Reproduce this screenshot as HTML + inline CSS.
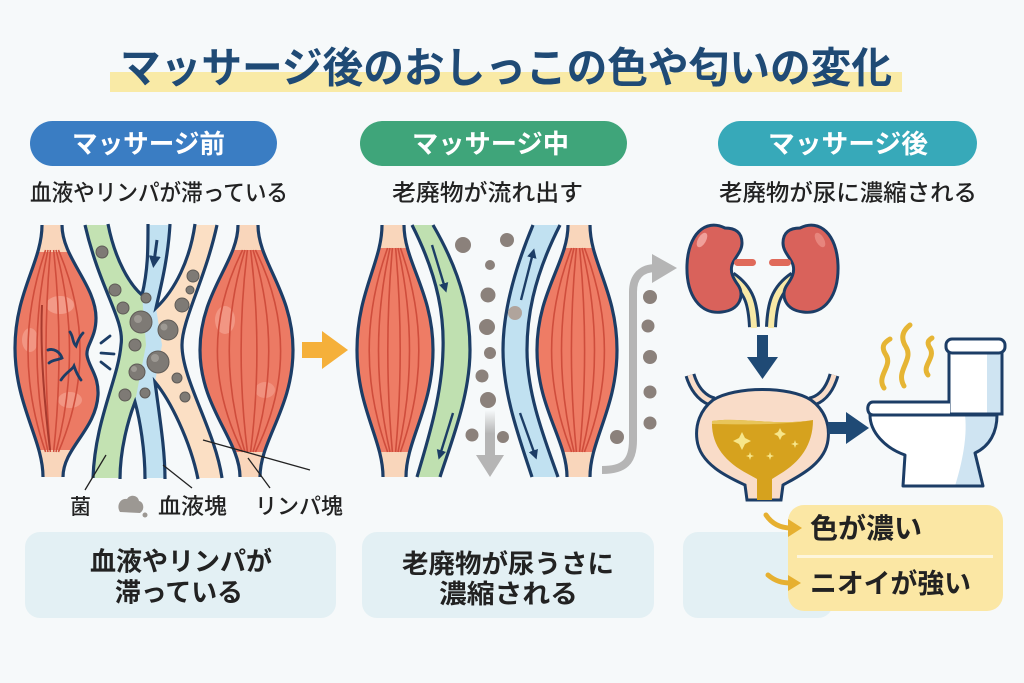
<!DOCTYPE html>
<html><head><meta charset="utf-8"><style>
html,body{margin:0;padding:0;background:#f6f9fa;}
svg{display:block;}
text{font-family:"Liberation Sans","Noto Sans CJK JP",sans-serif;}
</style></head><body>
<svg width="1024" height="683" viewBox="0 0 1024 683" xmlns="http://www.w3.org/2000/svg">
<defs>
<marker id="ah" viewBox="0 0 10 10" refX="5" refY="5" markerWidth="4" markerHeight="4" orient="auto"><path d="M0,0 L10,5 L0,10 Z" fill="#1c3d66"/></marker>
<linearGradient id="gfade" x1="0" y1="0" x2="0" y2="1"><stop offset="0" stop-color="#b5b5b5" stop-opacity="0"/><stop offset="0.5" stop-color="#b5b5b5"/></linearGradient>
<clipPath id="cLM1"><path d="M42,225 C42,262 15,292 15,348 C15,405 43,440 43,477 L63,477 C63,448 96,430 98,395 C99,375 88,366 87,355 C86,345 96,338 96,318 C96,285 62,258 62,225 Z"/></clipPath>
<clipPath id="cLM2"><path d="M238,225 C238,262 200,292 200,350 C200,408 240,440 240,477 L260,477 C260,440 293,408 293,350 C293,292 258,262 258,225 Z"/></clipPath>
<clipPath id="cMM1"><path d="M382,225 C382,262 357,292 357,350 C357,408 383,440 383,477 L406,477 C406,440 433,408 433,350 C433,292 404,262 404,225 Z"/></clipPath>
<clipPath id="cMM2"><path d="M568,225 C568,262 537,292 537,350 C537,408 567,440 567,477 L590,477 C590,440 617,408 617,350 C617,292 590,262 590,225 Z"/></clipPath>
<clipPath id="cBowl"><path d="M870,415 L997,415 C997,432 990,446 975,453 L983,486 L903,486 L905,455 C885,448 870,432 870,415 Z"/></clipPath>
<clipPath id="cTank"><rect x="949" y="352" width="53" height="62"/></clipPath>
</defs>

<!-- Title -->
<rect x="110" y="72" width="792" height="20" fill="#f9eaa6"/>
<text x="120" y="82.5" font-size="42" font-weight="bold" fill="#1f4a75" textLength="772" lengthAdjust="spacingAndGlyphs">マッサージ後のおしっこの色や匂いの変化</text>

<!-- Pills -->
<rect x="30" y="121" width="247" height="45" rx="22.5" fill="#3a7dc3"/>
<text x="72" y="153" font-size="26" font-weight="bold" fill="#fff" textLength="153" lengthAdjust="spacingAndGlyphs">マッサージ前</text>
<rect x="360" y="121" width="267" height="45" rx="22.5" fill="#3fa57a"/>
<text x="412" y="153" font-size="26" font-weight="bold" fill="#fff" textLength="157" lengthAdjust="spacingAndGlyphs">マッサージ中</text>
<rect x="718" y="121" width="259" height="45" rx="22.5" fill="#37a9b9"/>
<text x="768" y="153" font-size="26" font-weight="bold" fill="#fff" textLength="160" lengthAdjust="spacingAndGlyphs">マッサージ後</text>

<!-- Subtitles -->
<text x="30" y="200.5" font-size="23" font-weight="500" fill="#222" textLength="258" lengthAdjust="spacingAndGlyphs">血液やリンパが滞っている</text>
<text x="392" y="200.5" font-size="23" font-weight="500" fill="#222" textLength="191" lengthAdjust="spacingAndGlyphs">老廃物が流れ出す</text>
<text x="719" y="200.5" font-size="23" font-weight="500" fill="#222" textLength="258" lengthAdjust="spacingAndGlyphs">老廃物が尿に濃縮される</text>

<!-- ===== LEFT PANEL ===== -->
<!-- Left muscle LM1 -->
<g clip-path="url(#cLM1)">
<rect x="0" y="220" width="110" height="262" fill="#ec7a64"/>
<ellipse cx="60" cy="305" rx="14" ry="9" fill="#f6a897" opacity="0.7"/>
<ellipse cx="30" cy="340" rx="8" ry="12" fill="#f6a897" opacity="0.6"/>
<ellipse cx="70" cy="400" rx="12" ry="8" fill="#f6a897" opacity="0.6"/>
<rect x="0" y="220" width="110" height="32" fill="#f9d6bb"/>
<rect x="0" y="450" width="110" height="32" fill="#f9d6bb"/>
<g fill="none" stroke="#cf4d3c" stroke-width="1.6">
<path d="M45.6,250 Q10.4,351 45.6,452"/><path d="M48,250 Q26,351 48,452"/><path d="M50.4,250 Q41.6,351 50.4,452"/>
<path d="M53.6,250 Q64.4,351 53.6,452"/><path d="M56,250 Q83,351 56,452"/><path d="M58.4,250 Q101.6,351 58.4,452"/>
</g>
<path d="M42,305 C40,350 44,400 50,450" stroke="#a83a2e" stroke-width="2" fill="none"/>
</g>
<path d="M42,225 C42,262 15,292 15,348 C15,405 43,440 43,477" fill="none" stroke="#1c3d66" stroke-width="3.2"/>
<path d="M62,225 C62,258 96,285 96,318 C96,338 86,345 87,355 C88,366 99,375 98,395 C96,430 63,448 63,477" fill="none" stroke="#1c3d66" stroke-width="3.2"/>
<g fill="none" stroke="#1c3d66" stroke-width="2.8" stroke-linecap="round">
<path d="M70,332 C74,338 72,342 76,346 C78,340 80,336 83,333"/>
<path d="M48,350 C54,348 60,352 62,358 C58,360 52,360 49,363"/>
<path d="M61,380 C66,372 72,370 74,366 C76,372 78,376 81,380"/>
<path d="M101,343 L110,336"/><path d="M101,353 L114,354"/><path d="M101,362 L110,369"/>
</g>

<!-- Hourglass vessels -->
<path d="M85,225 L217,225 C205,280 182,320 182,345 C182,380 215,430 222,478 L93,478 C95,420 118,380 121,345 C125,320 100,290 85,225 Z" fill="#fbdfc4"/>
<path d="M85,225 L108,225 C115,260 130,285 142,295 L152,345 L138,400 C128,420 120,450 120,478 L93,478 C95,420 118,380 121,345 C125,320 100,290 85,225 Z" fill="#c3e2b2"/>
<path d="M148,225 L170,225 C168,260 160,290 156,308 L162,345 L155,382 C162,420 165,450 165,478 L145,478 C145,450 140,420 135,402 L146,345 L142,295 C148,270 148,250 148,225 Z" fill="#c1e1f1"/>
<!-- notches -->
<path d="M108,224 C115,260 130,285 142,295 C148,270 148,250 148,224 Z" fill="#f6f9fa"/>
<path d="M170,224 C168,260 160,290 156,308 C175,290 190,260 195,224 Z" fill="#f6f9fa"/>
<path d="M120,479 C120,450 128,420 135,402 C140,420 145,450 145,479 Z" fill="#f6f9fa"/>
<path d="M165,479 C165,450 160,420 155,382 C170,400 190,440 198,479 Z" fill="#f6f9fa"/>
<g fill="none" stroke="#1c3d66" stroke-width="3.2">
<path d="M85,225 C100,290 125,320 121,345 C118,380 95,420 93,478"/>
<path d="M217,225 C205,280 182,320 182,345 C182,380 215,430 222,478"/>
<path d="M108,224 C115,260 130,285 142,295 C148,270 148,250 148,224"/>
<path d="M170,224 C168,260 160,290 156,308 C175,290 190,260 195,224"/>
<path d="M120,479 C120,450 128,420 135,402 C140,420 145,450 145,479"/>
<path d="M165,479 C165,450 160,420 155,382 C170,400 190,440 198,479"/>
</g>
<path d="M157,240 L154,262" stroke="#1c3d66" stroke-width="3" fill="none" marker-end="url(#ah)"/>
<!-- blobs -->
<g fill="#7e7a75" stroke="#5f5b57" stroke-width="1">
<circle cx="102" cy="252" r="6"/><circle cx="115" cy="290" r="6"/><circle cx="123" cy="308" r="6"/>
<circle cx="141" cy="322" r="11"/><circle cx="146" cy="298" r="5"/><circle cx="168" cy="330" r="10"/>
<circle cx="135" cy="345" r="6"/><circle cx="158" cy="362" r="11"/><circle cx="137" cy="372" r="8"/>
<circle cx="125" cy="395" r="6"/><circle cx="145" cy="393" r="5"/><circle cx="182" cy="305" r="7"/>
<circle cx="193" cy="276" r="6"/><circle cx="190" cy="290" r="4"/><circle cx="177" cy="378" r="5"/><circle cx="185" cy="397" r="5"/>
</g>
<g fill="#9d9993"><circle cx="138" cy="319" r="4"/><circle cx="164" cy="327" r="3.5"/><circle cx="155" cy="358" r="4"/><circle cx="134" cy="369" r="3"/></g>

<!-- Right muscle LM2 -->
<g clip-path="url(#cLM2)">
<rect x="195" y="220" width="105" height="262" fill="#ec7a64"/>
<ellipse cx="225" cy="320" rx="10" ry="14" fill="#f6a897" opacity="0.6"/>
<ellipse cx="265" cy="390" rx="10" ry="8" fill="#f6a897" opacity="0.5"/>
<rect x="195" y="220" width="105" height="30" fill="#f9d6bb"/>
<rect x="195" y="452" width="105" height="30" fill="#f9d6bb"/>
<g fill="none" stroke="#cf4d3c" stroke-width="1.6">
<path d="M242.6,250 Q192.2,351 242.6,452"/><path d="M245,250 Q213.5,351 245,452"/><path d="M247.4,250 Q234.8,351 247.4,452"/>
<path d="M250.6,250 Q263.2,351 250.6,452"/><path d="M253,250 Q284.5,351 253,452"/><path d="M255.4,250 Q305.8,351 255.4,452"/>
</g>
</g>
<path d="M238,225 C238,262 200,292 200,350 C200,408 240,440 240,477" fill="none" stroke="#1c3d66" stroke-width="3.2"/>
<path d="M258,225 C258,262 293,292 293,350 C293,408 260,440 260,477" fill="none" stroke="#1c3d66" stroke-width="3.2"/>

<!-- callout lines -->
<g stroke="#222" stroke-width="1.3">
<line x1="85" y1="490" x2="106" y2="455"/>
<line x1="192" y1="488" x2="163" y2="465"/>
<line x1="310" y1="470" x2="203" y2="440"/>
<line x1="270" y1="488" x2="248" y2="458"/>
</g>
<!-- legend -->
<text x="70" y="514" font-size="21" font-weight="500" fill="#222">菌</text>
<path d="M120,512 C116,506 120,498 127,499 C130,494 138,495 139,501 C144,502 145,510 140,513 Z" fill="#9c9893"/>
<circle cx="145" cy="515" r="2.5" fill="#9c9893"/>
<text x="158" y="514" font-size="22" font-weight="500" fill="#222" textLength="69" lengthAdjust="spacingAndGlyphs">血液塊</text>
<text x="255" y="514" font-size="22" font-weight="500" fill="#222" textLength="88" lengthAdjust="spacingAndGlyphs">リンパ塊</text>

<!-- orange arrow -->
<rect x="302" y="342" width="23" height="16" fill="#f5b03a"/>
<polygon points="322,331 348,350 322,369" fill="#f5b03a"/>

<!-- ===== MIDDLE PANEL ===== -->
<g clip-path="url(#cMM1)">
<rect x="350" y="220" width="90" height="262" fill="#ee7c65"/>
<rect x="350" y="220" width="90" height="28" fill="#f9d6bb"/>
<rect x="350" y="452" width="90" height="30" fill="#f9d6bb"/>
<g fill="none" stroke="#cf4d3c" stroke-width="1.6">
<path d="M387.6,248 Q350.8,351 387.6,452"/><path d="M390,248 Q367,351 390,452"/><path d="M392.4,248 Q383.2,351 392.4,452"/>
<path d="M395.6,248 Q404.8,351 395.6,452"/><path d="M398,248 Q421,351 398,452"/><path d="M400.4,248 Q437.2,351 400.4,452"/>
</g>
</g>
<path d="M382,225 C382,262 357,292 357,350 C357,408 383,440 383,477" fill="none" stroke="#1c3d66" stroke-width="3.2"/>
<path d="M404,225 C404,262 433,292 433,350 C433,408 406,440 406,477" fill="none" stroke="#1c3d66" stroke-width="3.2"/>

<!-- green vessel -->
<path d="M412,225 C440,280 444,320 443,350 C442,395 428,440 417,477 L440,477 C452,440 470,395 470,350 C470,320 465,280 433,225 Z" fill="#bfe0b0"/>
<path d="M412,225 C440,280 444,320 443,350 C442,395 428,440 417,477" fill="none" stroke="#1c3d66" stroke-width="3.2"/>
<path d="M433,225 C465,280 470,320 470,350 C470,395 452,440 440,477" fill="none" stroke="#1c3d66" stroke-width="3.2"/>
<path d="M432,245 L445,288" stroke="#1c3d66" stroke-width="2.4" marker-end="url(#ah)"/>
<path d="M453,413 L440,455" stroke="#1c3d66" stroke-width="2.4" marker-end="url(#ah)"/>

<!-- blue vessel -->
<path d="M533,225 C510,280 503,320 503,350 C503,395 520,440 532,477 L558,477 C545,440 527,395 527,350 C527,320 532,280 560,225 Z" fill="#c1e1f1"/>
<path d="M533,225 C510,280 503,320 503,350 C503,395 520,440 532,477" fill="none" stroke="#1c3d66" stroke-width="3.2"/>
<path d="M560,225 C532,280 527,320 527,350 C527,395 545,440 558,477" fill="none" stroke="#1c3d66" stroke-width="3.2"/>
<path d="M521,300 L533,253" stroke="#1c3d66" stroke-width="2.4" marker-end="url(#ah)"/>
<path d="M520,413 L535,455" stroke="#1c3d66" stroke-width="2.4" marker-end="url(#ah)"/>

<!-- right muscle MM2 -->
<g clip-path="url(#cMM2)">
<rect x="530" y="220" width="95" height="262" fill="#ee7c65"/>
<rect x="530" y="220" width="95" height="28" fill="#f9d6bb"/>
<rect x="530" y="452" width="95" height="30" fill="#f9d6bb"/>
<g fill="none" stroke="#cf4d3c" stroke-width="1.6">
<path d="M571.6,248 Q531.6,351 571.6,452"/><path d="M574,248 Q549,351 574,452"/><path d="M576.4,248 Q566.4,351 576.4,452"/>
<path d="M579.6,248 Q589.6,351 579.6,452"/><path d="M582,248 Q607,351 582,452"/><path d="M584.4,248 Q624.4,351 584.4,452"/>
</g>
</g>
<path d="M568,225 C568,262 537,292 537,350 C537,408 567,440 567,477" fill="none" stroke="#1c3d66" stroke-width="3.2"/>
<path d="M590,225 C590,262 617,292 617,350 C617,408 590,440 590,477" fill="none" stroke="#1c3d66" stroke-width="3.2"/>

<!-- particles middle -->
<g fill="#8b817b">
<circle cx="463" cy="245" r="8"/><circle cx="507" cy="240" r="7"/><circle cx="490" cy="265" r="5"/>
<circle cx="488" cy="295" r="7.5"/><circle cx="487" cy="327" r="8"/><circle cx="490" cy="353" r="6"/>
<circle cx="482" cy="376" r="6.5"/><circle cx="488" cy="400" r="8"/><circle cx="472" cy="435" r="6.5"/><circle cx="503" cy="437" r="6"/>
<circle cx="650" cy="297" r="7"/><circle cx="648" cy="326" r="6.5"/><circle cx="650" cy="357" r="7"/>
<circle cx="650" cy="392" r="6.5"/><circle cx="650" cy="423" r="6.5"/><circle cx="617" cy="437" r="7"/>
</g>
<circle cx="515" cy="313" r="7" fill="#b0a49c"/>
<!-- grey down arrow -->
<rect x="485" y="410" width="10" height="47" fill="url(#gfade)"/>
<polygon points="476,455 504,455 490,477" fill="#b5b5b5"/>
<!-- grey curved arrow -->
<path d="M602,470 C624,470 633,462 633,440 L633,292 C633,276 642,268 656,268" fill="none" stroke="#b5b5b5" stroke-width="8"/>
<polygon points="652,254 677,268 652,283" fill="#b5b5b5"/>

<!-- ===== RIGHT PANEL ===== -->
<!-- ureters -->
<path d="M731,277 C750,290 753,305 754,327" fill="none" stroke="#1c3d66" stroke-width="12"/>
<path d="M794,277 C775,290 772,305 771,327" fill="none" stroke="#1c3d66" stroke-width="12"/>
<path d="M731,277 C750,290 753,305 754,328" fill="none" stroke="#f8e9a6" stroke-width="6"/>
<path d="M794,277 C775,290 772,305 771,328" fill="none" stroke="#f8e9a6" stroke-width="6"/>
<!-- kidneys -->
<path d="M725,228 C705,218 688,235 687,265 C686,295 700,315 722,312 C740,310 745,295 738,285 C733,278 730,272 732,265 C734,258 742,252 742,243 C742,232 735,228 725,228 Z" fill="#d9625b" stroke="#1c3d66" stroke-width="3"/>
<path d="M800,228 C820,218 837,235 838,265 C839,295 825,315 803,312 C785,310 780,295 787,285 C792,278 795,272 793,265 C791,258 783,252 783,243 C783,232 790,228 800,228 Z" fill="#d9625b" stroke="#1c3d66" stroke-width="3"/>
<ellipse cx="702" cy="240" rx="4" ry="8" fill="#f0a09a" transform="rotate(30 702 240)"/>
<ellipse cx="820" cy="240" rx="4" ry="8" fill="#e7857d" transform="rotate(-30 820 240)"/>
<rect x="734" y="259" width="22" height="7" rx="3.5" fill="#e06a5a"/>
<rect x="769" y="259" width="22" height="7" rx="3.5" fill="#e06a5a"/>
<!-- down arrow -->
<rect x="757" y="335" width="11" height="25" fill="#1f4a75"/>
<polygon points="747,357 778,357 762.5,379" fill="#1f4a75"/>
<!-- bladder -->
<path d="M690,375 C695,392 705,400 714,402" fill="none" stroke="#1c3d66" stroke-width="11" stroke-linecap="butt"/>
<path d="M690,375 C695,392 705,400 714,402" fill="none" stroke="#f9dcc8" stroke-width="5"/>
<path d="M834,375 C829,392 820,400 810,402" fill="none" stroke="#1c3d66" stroke-width="11"/>
<path d="M834,375 C829,392 820,400 810,402" fill="none" stroke="#f9dcc8" stroke-width="5"/>
<path d="M713,400 C735,386 790,386 811,400 C825,410 830,425 828,440 C825,465 795,478 783,485 L781,500 L747,500 L745,485 C730,478 700,465 697,440 C695,425 700,410 713,400 Z" fill="#f9dcc8" stroke="#1c3d66" stroke-width="3"/>
<path d="M712,421 C740,417 780,426 813,420 C813,445 800,462 780,474 L772,479 L772,500 L757,500 L757,479 L748,474 C725,462 711,445 712,421 Z" fill="#d6a21e"/>
<path d="M712,421 C740,417 780,426 813,420 C790,424 760,425 712,424 Z" fill="#e8c55a"/>
<g fill="#f7e68a">
<path d="M742,432 L745,438 L751,441 L745,444 L742,450 L739,444 L733,441 L739,438 Z"/>
<path d="M780,428 L782,432 L786,434 L782,436 L780,440 L778,436 L774,434 L778,432 Z"/>
<path d="M750,452 L751,455 L754,456 L751,457 L750,460 L749,457 L746,456 L749,455 Z"/>
<path d="M795,440 L796,443 L799,444 L796,445 L795,448 L794,445 L791,444 L794,443 Z"/>
<path d="M770,452 L771,455 L774,456 L771,457 L770,460 L769,457 L766,456 L769,455 Z"/>
</g>
<!-- right arrow -->
<rect x="828" y="422" width="21" height="12" fill="#1f4a75"/>
<polygon points="846,412 869,428 846,444" fill="#1f4a75"/>
<!-- smell waves -->
<g fill="none" stroke="#e6b534" stroke-width="5" stroke-linecap="round">
<path d="M884,388 C876,376 893,366 886,355 C880,346 885,342 890,339"/>
<path d="M904,386 C895,371 914,360 906,347 C899,336 905,329 910,325"/>
<path d="M928,375 C921,366 936,358 930,348 C926,342 929,340 932,338"/>
</g>
<!-- toilet -->
<rect x="949" y="352" width="53" height="62" fill="#fff"/>
<rect x="987" y="352" width="15" height="62" fill="#cfe4f2" clip-path="url(#cTank)"/>
<rect x="949" y="352" width="53" height="62" fill="none" stroke="#1c3d66" stroke-width="3"/>
<rect x="946" y="339" width="59" height="14" rx="6" fill="#fff" stroke="#1c3d66" stroke-width="3"/>
<path d="M870,415 L997,415 C997,432 990,446 975,453 L983,486 L903,486 L905,455 C885,448 870,432 870,415 Z" fill="#fff"/>
<path d="M965,415 L997,415 L997,486 L955,486 C960,470 968,440 965,415 Z" fill="#cfe4f2" clip-path="url(#cBowl)"/>
<path d="M870,415 L997,415 C997,432 990,446 975,453 L983,486 L903,486 L905,455 C885,448 870,432 870,415 Z" fill="none" stroke="#1c3d66" stroke-width="3" stroke-linejoin="round"/>
<path d="M950,402 L873,402 C866,402 866,415 873,415 L950,415" fill="#fff" stroke="#1c3d66" stroke-width="3"/>

<!-- ===== BOTTOM BOXES ===== -->
<rect x="25" y="532" width="311" height="86" rx="15" fill="#e3f0f4"/>
<text x="90" y="570.5" font-size="26" font-weight="bold" fill="#222" textLength="182" lengthAdjust="spacingAndGlyphs">血液やリンパが</text>
<text x="115" y="601.5" font-size="26" font-weight="bold" fill="#222" textLength="128" lengthAdjust="spacingAndGlyphs">滞っている</text>
<rect x="362" y="532" width="292" height="86" rx="15" fill="#e3f0f4"/>
<text x="402" y="573" font-size="26" font-weight="bold" fill="#222" textLength="212" lengthAdjust="spacingAndGlyphs">老廃物が尿うさに</text>
<text x="439" y="603" font-size="26" font-weight="bold" fill="#222" textLength="139" lengthAdjust="spacingAndGlyphs">濃縮される</text>
<rect x="683" y="532" width="150" height="86" rx="15" fill="#e3f0f4"/>
<rect x="788" y="505" width="215" height="106" rx="16" fill="#fbe7a4"/>
<rect x="797" y="555" width="196" height="3" fill="#fdf6dc"/>
<text x="810" y="538" font-size="28" font-weight="bold" fill="#222" textLength="112" lengthAdjust="spacingAndGlyphs">色が濃い</text>
<text x="810" y="593" font-size="27" font-weight="bold" fill="#222" textLength="161" lengthAdjust="spacingAndGlyphs">ニオイが強い</text>
<!-- yellow curved arrows -->
<path d="M766,515 C772,524 780,528 791,528" fill="none" stroke="#e6b030" stroke-width="5" stroke-linecap="round"/>
<polygon points="788,519 802,528 788,537" fill="#e6b030"/>
<path d="M768,575 C775,581 782,583 791,583" fill="none" stroke="#e6b030" stroke-width="5" stroke-linecap="round"/>
<polygon points="788,575 801,583 788,591" fill="#e6b030"/>
</svg>
</body></html>
